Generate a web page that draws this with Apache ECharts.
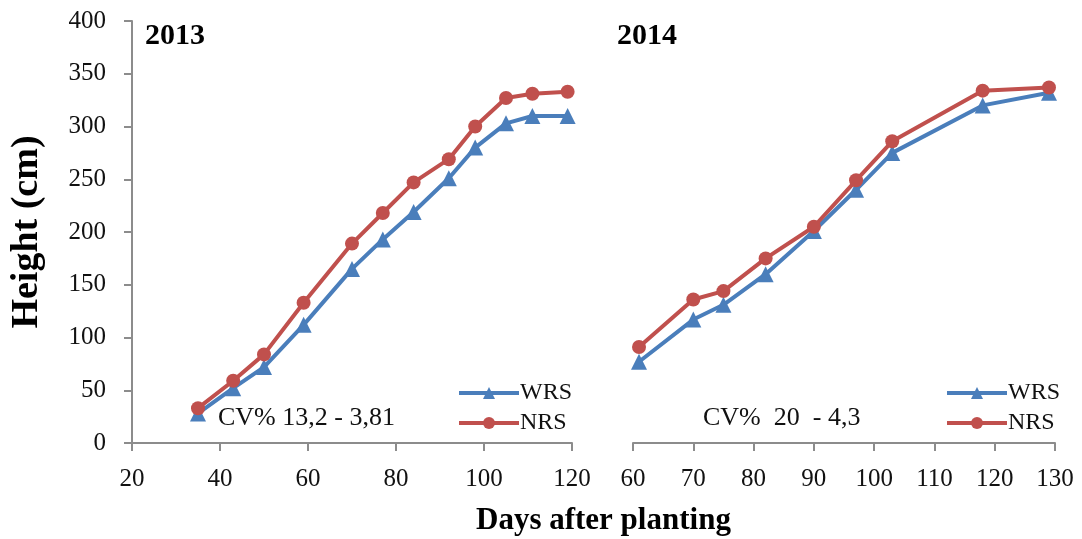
<!DOCTYPE html>
<html><head><meta charset="utf-8">
<script src="https://cdn.jsdelivr.net/npm/echarts@6/dist/echarts.min.js"></script>
<style>html,body{margin:0;padding:0;background:#fff}#c{width:1082px;height:539px}</style>
</head><body><div id="c"></div>
<script>
// 2013 data
const days2013 = [35, 43, 50, 59, 70, 77, 84, 92, 98, 105, 111, 119];
const wrs2013  = [28, 52, 72, 112, 165, 193, 219, 251, 280, 303, 310, 310];
const nrs2013  = [33, 59, 84, 133, 189, 218, 247, 269, 300, 327, 331, 333];
// 2014 data
const days2014 = [61, 70, 75, 82, 90, 97, 103, 118, 129];
const wrs2014  = [77, 117, 131, 160, 201, 240, 275, 320, 332];
const nrs2014  = [91, 136, 144, 175, 205, 249, 286, 334, 337];

const BLUE = '#4A7EBB', RED = '#C0504D', AX = '#8c8c8c';
const FONT = 'Liberation Serif';
const pair = (xs, ys) => xs.map((x, i) => [x, ys[i]]);

function mkSeries(name, data, idx, color, symbol) {
  return {
    name, type: 'line', xAxisIndex: idx, yAxisIndex: idx, data,
    symbol, symbolSize: symbol === 'circle' ? 14 : 16,
    lineStyle: { color, width: 4 }, itemStyle: { color },
    z: name === 'NRS' ? 3 : 2, animation: false
  };
}
const axisLabel = { color: '#111', fontFamily: FONT, fontSize: 25 };
const legendText = { fontFamily: FONT, fontSize: 24, color: '#111', padding: [0, 0, 0, -4] };
function mkLegend(left) {
  return { data: ['WRS', 'NRS'], orient: 'vertical', left, top: 376, itemWidth: 60, itemHeight: 15, itemGap: 6,
    lineStyle: { width: 4 }, textStyle: legendText, selectedMode: false };
}
const chart = echarts.init(document.getElementById('c'));
chart.setOption({
  animation: false,
  grid: [
    { left: 132, top: 21, width: 440, height: 422 },
    { left: 633, top: 21, width: 422, height: 422 }
  ],
  xAxis: [
    { gridIndex: 0, type: 'value', min: 20, max: 120, interval: 20,
      axisLine: { lineStyle: { color: AX, width: 2 } }, axisTick: { length: 8, lineStyle: { color: AX, width: 2 } },
      splitLine: { show: false }, axisLabel: Object.assign({ margin: 24 }, axisLabel) },
    { gridIndex: 1, type: 'value', min: 60, max: 130, interval: 10,
      axisLine: { lineStyle: { color: AX, width: 2 } }, axisTick: { length: 8, lineStyle: { color: AX, width: 2 } },
      splitLine: { show: false }, axisLabel: Object.assign({ margin: 24 }, axisLabel) }
  ],
  yAxis: [
    { gridIndex: 0, type: 'value', min: 0, max: 400, interval: 50,
      name: 'Height (cm)', nameLocation: 'middle', nameGap: 86, nameRotate: 90,
      nameTextStyle: { fontFamily: FONT, fontSize: 38, fontWeight: 'bold', color: '#000' },
      axisLine: { show: true, lineStyle: { color: AX, width: 2 } }, axisTick: { show: true, length: 8, lineStyle: { color: AX, width: 2 } },
      splitLine: { show: false }, axisLabel: Object.assign({ margin: 26 }, axisLabel) },
    { gridIndex: 1, type: 'value', min: 0, max: 400, interval: 50,
      axisLine: { show: false }, axisTick: { show: false }, axisLabel: { show: false }, splitLine: { show: false } }
  ],
  legend: [mkLegend(452), mkLegend(940)],
  graphic: [
    { type: 'text', left: 145, top: 21, style: { text: '2013', font: 'bold 30px "Liberation Serif"', fill: '#000' } },
    { type: 'text', left: 617, top: 21, style: { text: '2014', font: 'bold 30px "Liberation Serif"', fill: '#000' } },
    { type: 'text', left: 218, top: 405, style: { text: 'CV% 13,2 - 3,81', font: '26px "Liberation Serif"', fill: '#111' } },
    { type: 'text', left: 703, top: 405, style: { text: 'CV%  20  - 4,3', font: '26px "Liberation Serif"', fill: '#111' } },
    { type: 'text', left: 476, top: 505, style: { text: 'Days after planting', font: 'bold 31px "Liberation Serif"', fill: '#000' } }
  ],
  series: [
    mkSeries('WRS', pair(days2013, wrs2013), 0, BLUE, 'triangle'),
    mkSeries('NRS', pair(days2013, nrs2013), 0, RED, 'circle'),
    mkSeries('WRS', pair(days2014, wrs2014), 1, BLUE, 'triangle'),
    mkSeries('NRS', pair(days2014, nrs2014), 1, RED, 'circle')
  ]
});
</script></body></html>
